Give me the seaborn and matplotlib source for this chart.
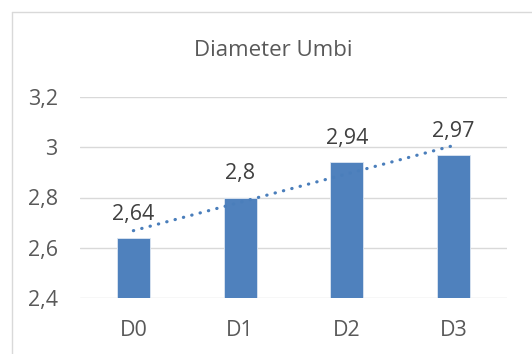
import numpy as np
import pandas as pd
import seaborn as sns
import matplotlib.pyplot as plt
from matplotlib.lines import Line2D

categories = ["D0", "D1", "D2", "D3"]
diameter = [2.64, 2.8, 2.94, 2.97]
y_ticks = [2.4, 2.6, 2.8, 3.0, 3.2]
y_labels = ["2,4", "2,6", "2,8", "3", "3,2"]

sns.set_theme(style="white")
plt.rcParams['font.family'] = ['Open Sans', 'DejaVu Sans']

df = pd.DataFrame({'Kode': categories, 'Diameter': diameter})

fig = plt.figure(figsize=(5.32, 3.54), dpi=100)
ax = fig.add_axes([80 / 532, 1 - 298 / 354, 427 / 532, 201 / 354])

sns.barplot(data=df, x='Kode', y='Diameter', color='#4F81BD', saturation=1,
            width=0.31, edgecolor='#DCE6F2', linewidth=0.6, ax=ax, zorder=2)

# linear trendline (Excel style, round dots)
xs = np.arange(len(diameter))
slope, intercept = np.polyfit(xs, diameter, 1)
ax.plot(xs, slope * xs + intercept, linestyle=(0, (0.1, 2.6)), color='#4A7EBB',
        linewidth=2.3, dash_capstyle='round', zorder=3)

# data labels
for i, v in enumerate(diameter):
    ax.annotate(f"{v:g}".replace('.', ','), (i, v), xytext=(0, 13),
                textcoords='offset points', ha='center', va='baseline',
                fontsize=15.5, color='#404040', zorder=4)

ax.set_xlim(-0.5, 3.5)
ax.set_ylim(2.4, 3.2)
ax.set_yticks(y_ticks)
ax.set_yticklabels(y_labels)
ax.yaxis.grid(True, color='#D9D9D9', linewidth=1)
ax.set_axisbelow(True)
ax.tick_params(axis='y', labelsize=15.5, labelcolor='#595959', pad=16, length=0)
ax.tick_params(axis='x', labelsize=15.5, labelcolor='#595959', pad=16, length=0)
ax.set_xlabel("")
ax.set_ylabel("")
sns.despine(ax=ax, left=True, bottom=True)

fig.text(273 / 532, 1 - 50 / 354, "Diameter Umbi", ha='center', va='center',
         fontsize=16, color='#595959')

# chart area border (only left and top visible in the crop)
fig.add_artist(Line2D([11.5 / 532, 11.5 / 532], [0, 1 - 11.5 / 354],
                      color='#D9D9D9', linewidth=1, transform=fig.transFigure))
fig.add_artist(Line2D([11.5 / 532, 1], [1 - 11.5 / 354, 1 - 11.5 / 354],
                      color='#D9D9D9', linewidth=1, transform=fig.transFigure))

fig.savefig("out.png", dpi=100)
